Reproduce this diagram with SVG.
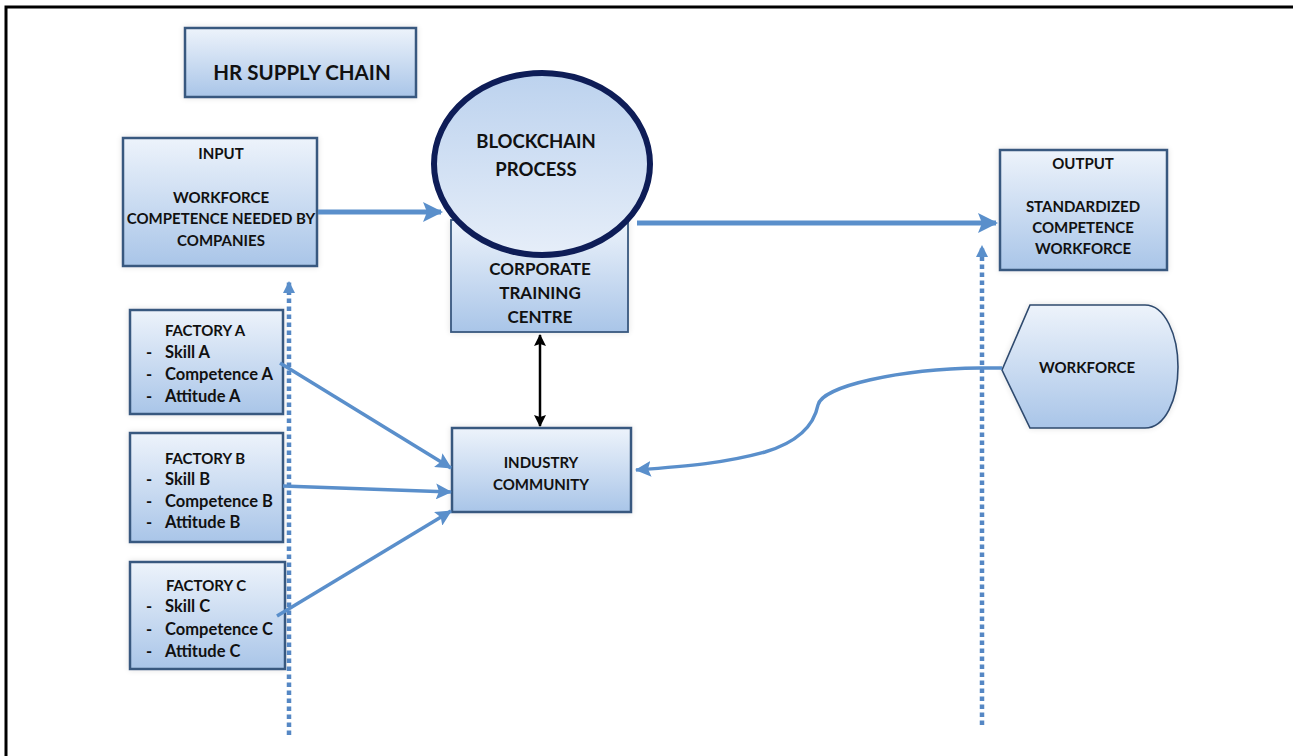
<svg xmlns="http://www.w3.org/2000/svg" width="1293" height="756" viewBox="0 0 1293 756">
<defs>
<linearGradient id="boxg" x1="0" y1="0" x2="0" y2="1">
<stop offset="0" stop-color="#edf3fb"/>
<stop offset="1" stop-color="#a9c5e8"/>
</linearGradient>
<linearGradient id="ellg" x1="0" y1="0" x2="0" y2="1">
<stop offset="0" stop-color="#bcd2ee"/>
<stop offset="1" stop-color="#e6eef9"/>
</linearGradient>
<filter id="glow" x="-10%" y="-10%" width="120%" height="120%">
<feGaussianBlur in="SourceAlpha" stdDeviation="3"/>
<feComponentTransfer><feFuncA type="linear" slope="0.12"/></feComponentTransfer>
<feMerge><feMergeNode/><feMergeNode in="SourceGraphic"/></feMerge>
</filter>
<marker id="ah" viewBox="0 0 20 20" refX="18" refY="10" markerWidth="20" markerHeight="20" markerUnits="userSpaceOnUse" orient="auto">
<path d="M0,0 L20,10 L0,20 L4,10 Z" fill="#5a8fcb"/>
</marker>
<marker id="ahs" viewBox="0 0 16 16" refX="15" refY="8" markerWidth="16" markerHeight="16" markerUnits="userSpaceOnUse" orient="auto">
<path d="M0,0 L16,8 L0,16 L3,8 Z" fill="#5a8fcb"/>
</marker>
<marker id="ahd" viewBox="0 0 12 12" refX="11" refY="6" markerWidth="12" markerHeight="12" markerUnits="userSpaceOnUse" orient="auto">
<path d="M0,0 L12,6 L0,12 Z" fill="#5a8fcb"/>
</marker>
<marker id="ahk" viewBox="0 0 12 12" refX="11" refY="6" markerWidth="12" markerHeight="12" markerUnits="userSpaceOnUse" orient="auto-start-reverse">
<path d="M0,0 L12,6 L0,12 L2,6 Z" fill="#000"/>
</marker>
</defs>
<style>
.box{fill:url(#boxg);stroke:#39587f;stroke-width:2.5;filter:url(#glow)}
.t{font-family:Lato,"Open Sans","Liberation Sans",sans-serif;font-weight:bold;fill:#111;text-anchor:middle}
.tl{font-family:Lato,"Open Sans","Liberation Sans",sans-serif;font-weight:bold;fill:#111}
.s15{font-size:15px}
.s16{font-size:16.5px}
.s17{font-size:17px}
.arr{fill:none;stroke:#5a8fcb;stroke-width:5}
.arr2{fill:none;stroke:#5a8fcb;stroke-width:3.5}
.dot{fill:none;stroke:#5587c4;stroke-width:4.5;stroke-dasharray:4.5 3.5}
</style>
<rect width="1293" height="756" fill="#fff"/>
<path d="M6,756 L6,7 L1293,7" fill="none" stroke="#000" stroke-width="3"/>

<g id="hr-supply-chain">
<rect class="box" x="185" y="28" width="231" height="69"/>
<text class="t" x="302" y="80" font-size="20.5">HR SUPPLY CHAIN</text>
</g>

<g id="input">
<rect class="box" x="123" y="138" width="194" height="128"/>
<text class="t s15" x="221" y="159">INPUT</text>
<text class="t s15" x="221" y="203">WORKFORCE</text>
<text class="t s15" x="221" y="224">COMPETENCE NEEDED BY</text>
<text class="t s15" x="221" y="246">COMPANIES</text>
</g>

<g id="corporate-training-centre">
<rect class="box" x="451" y="220" width="177" height="112" style="stroke-width:1.8"/>
<text class="t s17" x="540" y="275">CORPORATE</text>
<text class="t s17" x="540" y="299">TRAINING</text>
<text class="t s17" x="540" y="323">CENTRE</text>
</g>

<g id="blockchain-process">
<ellipse cx="542" cy="164" rx="108" ry="91" fill="url(#ellg)" stroke="#0e1d57" stroke-width="6"/>
<text class="t" x="536" y="148" font-size="18.5">BLOCKCHAIN</text>
<text class="t" x="536" y="176" font-size="18.5">PROCESS</text>
</g>

<g id="output">
<rect class="box" x="1000" y="150" width="167" height="120"/>
<text class="t s15" x="1083" y="169">OUTPUT</text>
<text class="t s15" x="1083" y="212">STANDARDIZED</text>
<text class="t s15" x="1083" y="233">COMPETENCE</text>
<text class="t s15" x="1083" y="254">WORKFORCE</text>
</g>

<g id="workforce">
<path d="M1002,370 L1030,305 L1145,305 C1165,305 1178,335 1178,367 C1178,400 1165,428 1145,428 L1030,428 Z" fill="url(#boxg)" stroke="#2f4a6e" stroke-width="1.6" filter="url(#glow)"/>
<text class="t s15" x="1087" y="373">WORKFORCE</text>
</g>

<g id="factory-a">
<rect class="box" x="130" y="310" width="153" height="104"/>
<text class="t s15" x="205" y="336">FACTORY A</text>
<text class="tl s16" x="146" y="358">-</text><text class="tl s16" x="165" y="358">Skill A</text>
<text class="tl s16" x="146" y="380">-</text><text class="tl s16" x="165" y="380">Competence A</text>
<text class="tl s16" x="146" y="402">-</text><text class="tl s16" x="165" y="402">Attitude A</text>
</g>

<g id="factory-b">
<rect class="box" x="130" y="433" width="153" height="109"/>
<text class="t s15" x="205" y="464">FACTORY B</text>
<text class="tl s16" x="146" y="485">-</text><text class="tl s16" x="165" y="485">Skill B</text>
<text class="tl s16" x="146" y="507">-</text><text class="tl s16" x="165" y="507">Competence B</text>
<text class="tl s16" x="146" y="528">-</text><text class="tl s16" x="165" y="528">Attitude B</text>
</g>

<g id="factory-c">
<rect class="box" x="130" y="562" width="155" height="107"/>
<text class="t s15" x="206" y="591">FACTORY C</text>
<text class="tl s16" x="146" y="612">-</text><text class="tl s16" x="165" y="612">Skill C</text>
<text class="tl s16" x="146" y="635">-</text><text class="tl s16" x="165" y="635">Competence C</text>
<text class="tl s16" x="146" y="657">-</text><text class="tl s16" x="165" y="657">Attitude C</text>
</g>

<g id="industry-community">
<rect class="box" x="452" y="428" width="179" height="84"/>
<text class="t s15" x="541" y="468">INDUSTRY</text>
<text class="t s15" x="541" y="490">COMMUNITY</text>
</g>

<g id="connectors">
<line class="dot" x1="289" y1="735" x2="289" y2="282" marker-end="url(#ahd)"/>
<line class="dot" x1="982" y1="725" x2="982" y2="246" marker-end="url(#ahd)"/>
<line class="arr" x1="318" y1="212" x2="441" y2="212" marker-end="url(#ah)"/>
<line class="arr" x1="637" y1="223" x2="996" y2="223" marker-end="url(#ah)"/>
<line stroke="#000" stroke-width="2.5" x1="540" y1="335" x2="540" y2="426" marker-start="url(#ahk)" marker-end="url(#ahk)"/>
<line class="arr2" x1="280" y1="363" x2="451" y2="468" marker-end="url(#ahs)"/>
<line class="arr2" x1="283" y1="486" x2="451" y2="492" marker-end="url(#ahs)"/>
<line class="arr2" x1="277" y1="616" x2="451" y2="511" marker-end="url(#ahs)"/>
<path class="arr2" d="M1002,368 L980,368 C900,369 822,386 818,405 C815,420 805,440 765,452 C725,463 690,466 636,470" marker-end="url(#ahs)"/>
</g>
</svg>
